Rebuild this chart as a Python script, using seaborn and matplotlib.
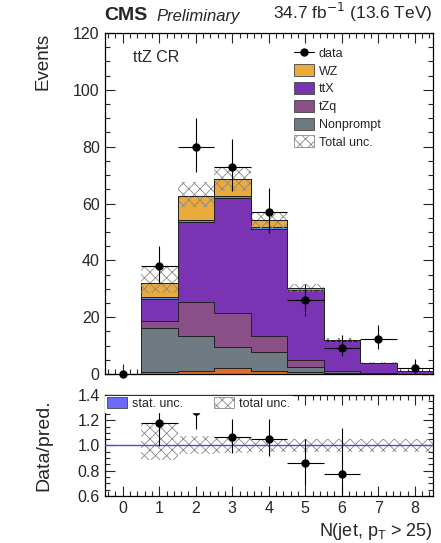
import numpy as np
import pandas as pd
import matplotlib
matplotlib.use("Agg")
import matplotlib.pyplot as plt
import seaborn as sns
from matplotlib.patches import Patch
from matplotlib.lines import Line2D
from matplotlib.ticker import MultipleLocator

# ---------------- data ----------------
njet = [0, 1, 2, 3, 4, 5, 6, 7, 8]
other_red = [0, 0.6, 1.0, 2.2, 1.2, 0.8, 0.3, 0.1, 0.03]
nonprompt = [0, 15.5, 12.5, 7.2, 6.4, 1.8, 0.6, 0.2, 0.05]
tzq = [0, 2.5, 12.0, 12.1, 5.7, 2.3, 0.3, 0.1, 0.02]
ttx = [0, 7.9, 28.0, 40.3, 37.9, 24.5, 10.5, 3.5, 0.95]
other_blue = [0, 0.5, 0.7, 0.7, 0.4, 0.3, 0.1, 0.05, 0.02]
wz = [0, 5.2, 8.6, 6.0, 2.5, 0.5, 0.2, 0.05, 0.03]
data = [0, 38, 80, 73, 57, 26, 9.3, 12.4, 2.2]
data_err_up = [0, 7.1, 10.0, 9.6, 8.6, 5.7, 4.4, 4.8, 3.0]
data_err_dn = [0, 6.0, 9.0, 8.7, 7.4, 5.5, 3.0, 3.5, 2.2]
unc_up = [0, 5.5, 4.8, 4.4, 2.9, 1.5, 0.6, 0.2, 0.06]
unc_dn = [0, 3.8, 4.0, 4.0, 2.7, 1.5, 0.6, 0.2, 0.06]

processes = ["WZ", "blue", "ttX", "tZq", "Nonprompt", "red"]
values = {"WZ": wz, "blue": other_blue, "ttX": ttx, "tZq": tzq,
          "Nonprompt": nonprompt, "red": other_red}
colors = {"WZ": "#EBAA3C", "blue": "#5A8FD8", "ttX": "#7A33B3",
          "tZq": "#8B4F88", "Nonprompt": "#6F7A82", "red": "#E06A28"}

rows = []
for p in processes:
    for x, v in zip(njet, values[p]):
        rows.append({"njet": x, "events": v, "process": p})
df = pd.DataFrame(rows)

x = np.array(njet, dtype=float)
total = np.sum([np.array(values[p]) for p in processes], axis=0)
d = np.array(data, dtype=float)
eu = np.array(data_err_up)
ed = np.array(data_err_dn)
uu = np.array(unc_up)
ud = np.array(unc_dn)

# ---------------- figure ----------------
sns.set_style("ticks")
plt.rcParams["font.family"] = ["Liberation Sans", "DejaVu Sans"]
plt.rcParams["hatch.linewidth"] = 0.6
plt.rcParams["hatch.color"] = "#888888"

fig = plt.figure(figsize=(4.41, 5.43), dpi=100)
ax = fig.add_axes([0.237, 0.3112, 0.745, 0.628])
rax = fig.add_axes([0.237, 0.0866, 0.745, 0.186])

sns.histplot(data=df, x="njet", weights="events", hue="process",
             hue_order=processes, multiple="stack", discrete=True,
             element="step", palette=colors, edgecolor="#222222",
             linewidth=0.7, alpha=1, legend=False, ax=ax)

# total uncertainty band
mask = total > 0
ax.bar(x[mask], (uu + ud)[mask], bottom=(total - ud)[mask], width=1.0,
       fill=False, hatch="xxx", edgecolor="#888888", linewidth=0, zorder=3)
ax.step(np.append(x[mask] - 0.5, x[mask][-1] + 0.5),
        np.append(total[mask], total[mask][-1]), where="post",
        color="#222222", lw=0.7, zorder=3)

# data
ax.errorbar(x, d, yerr=[ed, eu], xerr=0.5, fmt="o", color="black",
            ms=5, elinewidth=0.8, capsize=0, zorder=5, clip_on=False)

ax.set_xlim(-0.5, 8.5)
ax.set_ylim(0, 120)
ax.set_xlabel("")
ax.set_ylabel("Events", fontsize=13.5, loc="top")
ax.yaxis.set_label_coords(-0.16, 1.0)
ax.xaxis.set_major_locator(MultipleLocator(1))
ax.xaxis.set_minor_locator(MultipleLocator(0.2))
ax.yaxis.set_major_locator(MultipleLocator(20))
ax.yaxis.set_minor_locator(MultipleLocator(5))
ax.tick_params(axis="both", which="both", direction="in", top=True,
               right=True, labelsize=11.5)
ax.tick_params(which="major", length=7, width=0.8)
ax.tick_params(which="minor", length=3.5, width=0.8)
ax.tick_params(axis="x", labelbottom=False)

ax.text(0.087, 0.927, "ttZ CR", transform=ax.transAxes, fontsize=11.5,
        va="center", ha="left")

handles = [
    Line2D([0], [0], color="black", marker="o", ms=5, lw=0.8),
    Patch(facecolor=colors["WZ"], edgecolor="#444444", lw=0.6),
    Patch(facecolor=colors["ttX"], edgecolor="#444444", lw=0.6),
    Patch(facecolor=colors["tZq"], edgecolor="#444444", lw=0.6),
    Patch(facecolor=colors["Nonprompt"], edgecolor="#444444", lw=0.6),
    Patch(facecolor="white", edgecolor="#888888", hatch="xxx", lw=0.6),
]
labels = ["data", "WZ", "ttX", "tZq", "Nonprompt", "Total unc."]
ax.legend(handles, labels, loc="upper left", bbox_to_anchor=(0.56, 0.975),
          frameon=False, fontsize=9, handlelength=1.6, handleheight=1.1,
          labelspacing=0.36, handletextpad=0.4, borderaxespad=0)

fig.text(0.237, 0.955, "CMS", fontsize=14, fontweight="bold",
         ha="left", va="bottom")
fig.text(0.355, 0.955, "Preliminary", fontsize=12, fontstyle="italic",
         ha="left", va="bottom")
fig.text(0.982, 0.955, r"34.7 fb$^{-1}$ (13.6 TeV)", fontsize=12.5,
         ha="right", va="bottom")

# ---------------- ratio ----------------
with np.errstate(divide="ignore", invalid="ignore"):
    ratio = np.where(total > 0, d / total, np.nan)
    r_up = np.where(total > 0, eu / total, np.nan)
    r_dn = np.where(total > 0, ed / total, np.nan)
    band_lo = np.where(total > 0, 1 - ud / total, np.nan)
    band_hi = np.where(total > 0, 1 + uu / total, np.nan)

rax.bar(x[mask], (band_hi - band_lo)[mask], bottom=band_lo[mask], width=1.0,
        fill=False, hatch="xxx", edgecolor="#888888", linewidth=0, zorder=2)
rax.axhline(1.0, color="#4A4AE6", lw=1.0, zorder=3)
show = mask & (ratio <= 1.4)
rax.errorbar(x[show], ratio[show], yerr=[r_dn[show], r_up[show]], xerr=0.5,
             fmt="o", color="black", ms=5, elinewidth=0.8, capsize=0,
             zorder=4)

rax.set_xlim(-0.5, 8.5)
rax.set_ylim(0.6, 1.4)
rax.xaxis.set_major_locator(MultipleLocator(1))
rax.xaxis.set_minor_locator(MultipleLocator(0.2))
rax.yaxis.set_major_locator(MultipleLocator(0.2))
rax.yaxis.set_minor_locator(MultipleLocator(0.05))
rax.tick_params(axis="both", which="both", direction="in", top=True,
                right=True, labelsize=11.5)
rax.tick_params(which="major", length=7, width=0.8)
rax.tick_params(which="minor", length=3.5, width=0.8)
rax.set_yticks([0.6, 0.8, 1.0, 1.2, 1.4])
rax.set_yticklabels(["0.6", "0.8", "1.0", "1.2", "1.4"])
rax.set_ylabel("Data/pred.", fontsize=14)
rax.yaxis.set_label_coords(-0.16, 0.5)
rax.set_xlabel(r"N(jet, p$_\mathregular{T}$ > 25)", fontsize=13, loc="right")

rh = [Patch(facecolor="#6A6AF5", edgecolor="#444444", lw=0.6),
      Patch(facecolor="white", edgecolor="#888888", hatch="xxx", lw=0.6)]
leg = rax.legend(rh, ["stat. unc.", "total unc."], loc="upper left",
                 bbox_to_anchor=(0.0, 1.0), ncol=2, fontsize=9,
                 frameon=True, fancybox=False, framealpha=1,
                 edgecolor="white", handlelength=1.6, handleheight=0.9,
                 columnspacing=2.5, handletextpad=0.4, borderpad=0.15,
                 borderaxespad=0.05)
leg.set_zorder(10)

for a in (ax, rax):
    for s in a.spines.values():
        s.set_linewidth(0.9)
        s.set_color("black")

fig.savefig("out.png", dpi=100)
